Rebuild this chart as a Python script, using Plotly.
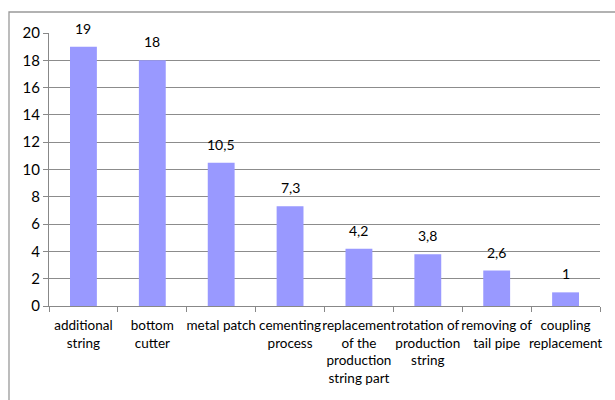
import plotly.graph_objects as go

categories = ["additional<br>string", "bottom<br>cutter", "metal patch", "cementing<br>process",
              "replacement<br>of the<br>production<br>string part", "rotation of<br>production<br>string",
              "removing of<br>tail pipe", "coupling<br>replacement"]
values = [19, 18, 10.5, 7.3, 4.2, 3.8, 2.6, 1]
value_labels = ["19", "18", "10,5", "7,3", "4,2", "3,8", "2,6", "1"]
y_ticks = [0, 2, 4, 6, 8, 10, 12, 14, 16, 18, 20]

FONT = "Lato"

fig = go.Figure(go.Bar(
    x=categories, y=values,
    marker=dict(color="#9999FF", line=dict(width=0)),
    width=0.39, cliponaxis=False,
))

for c, v, t in zip(categories, values, value_labels):
    fig.add_annotation(x=c, y=v, text=t, showarrow=False, yanchor="bottom", yshift=8,
                       font=dict(family=FONT, size=14, color="black"))

fig.update_layout(
    width=615, height=400,
    margin=dict(l=49, r=15, t=33, b=94),
    paper_bgcolor="white", plot_bgcolor="white",
    font=dict(family=FONT, color="black"),
    showlegend=False,
    xaxis=dict(
        tickson="boundaries", ticks="outside", ticklen=5, tickcolor="#888",
        showline=True, linecolor="#888", linewidth=1,
        tickfont=dict(size=13.5), tickangle=0, ticklabelstandoff=7,
    ),
    yaxis=dict(
        range=[0, 20], tickvals=y_ticks, ticks="outside", ticklen=5, tickcolor="#888",
        showline=True, linecolor="#888", linewidth=1,
        showgrid=True, gridcolor="#8c8c8c", gridwidth=1,
        tickfont=dict(size=15), zeroline=False,
    ),
    shapes=[dict(type="rect", xref="paper", yref="paper",
                 x0=-0.0726, x1=1.05, y0=-0.5, y1=1.0769,
                 line=dict(color="#999", width=1.3), fillcolor="rgba(0,0,0,0)", layer="below")],
)

fig.write_html("out.html")
